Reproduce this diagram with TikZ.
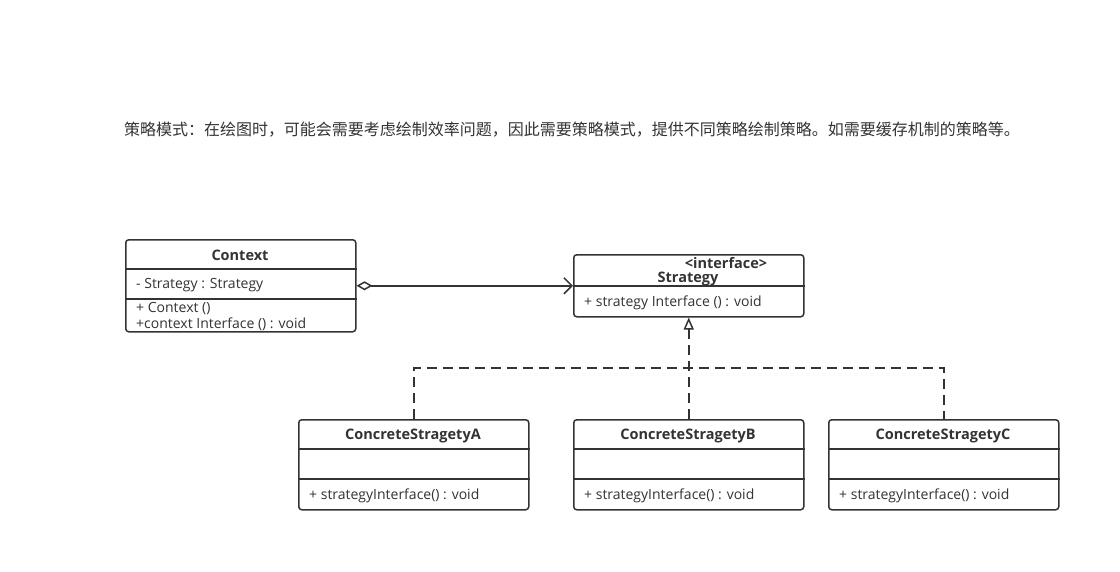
\documentclass[tikz,border=0pt]{standalone}
\usepackage{fontspec}
\setmainfont{Noto Sans CJK SC}
\newfontfamily\umlfont{Open Sans}
\usetikzlibrary{arrows.meta,calc}
\definecolor{umlgrey}{HTML}{333333}
\begin{document}
\begin{tikzpicture}[x=1pt,y=-1pt,
  umlbox/.style={draw=umlgrey,line width=1.5pt,rounded corners=3pt,minimum width=230pt,inner sep=0pt,anchor=north west},
  boldtxt/.style={font=\umlfont\fontsize{14.5}{16}\selectfont\bfseries,text=umlgrey,inner sep=0pt},
  member/.style={font=\umlfont\fontsize{14}{16}\selectfont,text=umlgrey,inner sep=0pt,anchor=west},
  realise/.style={draw=umlgrey,line width=1.5pt,dash pattern=on 10pt off 6pt}]
\useasboundingbox[fill=white] (0,0) rectangle (1120,571);
\node[font=\fontsize{16}{18}\selectfont,text=umlgrey,inner sep=0pt] (note) at (572,130) {策略模式：在绘图时，可能会需要考虑绘制效率问题，因此需要策略模式，提供不同策略绘制策略。如需要缓存机制的策略等。};
% Context
\node[umlbox,minimum height=92pt] (ctx) at (125,239) {};
\node[boldtxt] (ctxname) at (240,255.5) {Context};
\draw[umlgrey,line width=1.5pt] ($(ctx.north west)+(0,30)$) -- ($(ctx.north east)+(0,30)$);
\draw[umlgrey,line width=1.5pt] ($(ctx.north west)+(0,60)$) -- ($(ctx.north east)+(0,60)$);
\node[member] (ctxattr) at (136,285.5) {- Strategy : Strategy};
\node[member] (ctxop1) at (136,308.5) {+ Context ()};
\node[member] (ctxop2) at (136,324) {+context Interface () : void};
% Strategy
\node[umlbox,minimum height=62pt] (strat) at (573,254) {};
\node[boldtxt] (stratstereo) at (726,263) {<interface>};
\node[boldtxt] (stratname) at (688,279) {Strategy};
\draw[umlgrey,line width=1.5pt] ($(strat.north west)+(0,32)$) -- ($(strat.north east)+(0,32)$);
\node[member] (stratop) at (584,302.5) {+ strategy Interface () : void};
% concrete strategies
\foreach \n/\x/\l in {cA/298/A,cB/573/B,cC/828/C}{
  \node[umlbox,minimum height=90pt] (\n) at (\x,419) {};
  \node[boldtxt] (\n name) at (\x+115,435.5) {ConcreteStragety\l};
  \draw[umlgrey,line width=1.5pt] ($(\n.north west)+(0,30)$) -- ($(\n.north east)+(0,30)$);
  \draw[umlgrey,line width=1.5pt] ($(\n.north west)+(0,60)$) -- ($(\n.north east)+(0,60)$);
  \node[member] (\n op) at (\x+11,495.5) {+ strategyInterface() : void};
}
% relations
\draw[umlgrey,line width=1.5pt,{Diamond[open,length=16pt,width=9pt]}-{Straight Barb[length=8pt,width=16pt]}] (ctx.east) -- (strat.west);
\coordinate (rail) at (0,368);
\draw[realise] (cA.north) |- (rail -| cC.north) -- (cC.north);
\draw[realise,-{Triangle[open,length=12pt,width=10pt]}] (cB.north) -- (strat.south);
\end{tikzpicture}
\end{document}
